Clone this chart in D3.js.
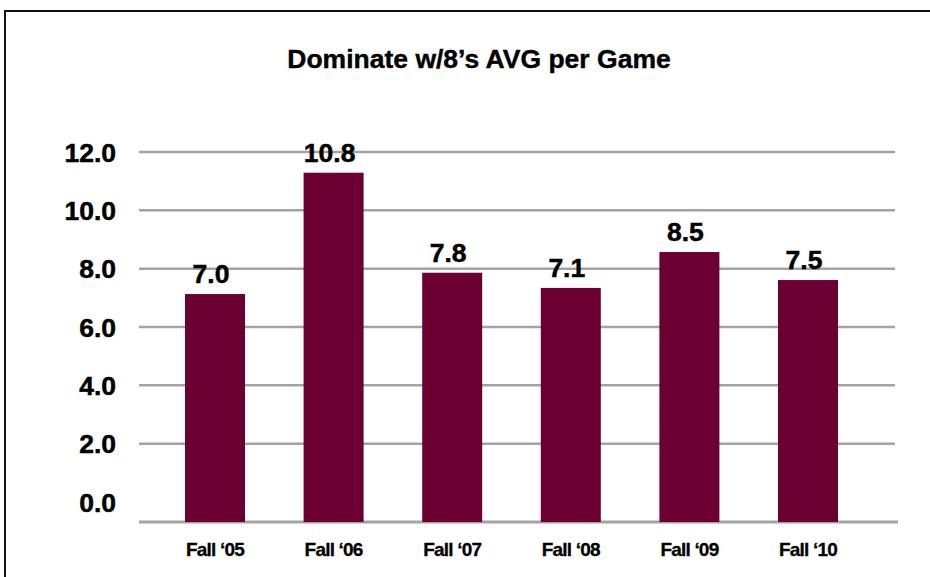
<!DOCTYPE html>
<html>
<head>
<meta charset="utf-8">
<script src="https://cdnjs.cloudflare.com/ajax/libs/d3/7.8.5/d3.min.js"></script>
<style>
  body { margin: 0; background: #fff; }
  text { font-family: "Liberation Sans", Arial, sans-serif; font-weight: bold; fill: #000; }
</style>
</head>
<body>
<div id="canvas"></div>
<script>
var seasons = ["Fall \u201805", "Fall \u201806", "Fall \u201807", "Fall \u201808", "Fall \u201809", "Fall \u201810"]
// printed values above the bars
var values = [7.0, 10.8, 7.8, 7.1, 8.5, 7.5]
// bar heights as drawn in the picture (they don't match the printed values exactly)
var barHeights = [7.13, 11.29, 7.86, 7.34, 8.57, 7.61]
var yTicks = [0, 2, 4, 6, 8, 10, 12]

var width = 930
var height = 577
var baseY = 522

var svg = d3.select("#canvas")
    .append("svg")
    .attr("width", width)
    .attr("height", height)

// frame
svg.append("rect")
    .attr("x", 5)
    .attr("y", 11)
    .attr("width", width)
    .attr("height", height)
    .attr("fill", "none")
    .attr("stroke", "#111")
    .attr("stroke-width", 2)

svg.append("text")
    .attr("x", 479)
    .attr("y", 68)
    .attr("text-anchor", "middle")
    .style("font-size", "26.5px")
    .style("stroke", "#000")
    .style("stroke-width", 0.4)
    .text("Dominate w/8\u2019s AVG per Game")

var xScale = d3.scalePoint().domain(seasons).range([215, 808])
var yScale = d3.scaleLinear().domain([0, 12]).range([502, 152])
var barWidth = 60

// gridlines (0 is replaced by the baseline below)
svg.selectAll(".grid")
    .data(yTicks.filter(function (d) { return d > 0 }))
    .enter()
    .append("line")
    .attr("class", "grid")
    .attr("x1", 139)
    .attr("x2", 895)
    .attr("y1", function (d) { return yScale(d) })
    .attr("y2", function (d) { return yScale(d) })
    .attr("stroke", "#a3a3a3")
    .attr("stroke-width", 2.5)

svg.append("line")
    .attr("x1", 139)
    .attr("x2", 898)
    .attr("y1", baseY)
    .attr("y2", baseY)
    .attr("stroke", "#a3a3a3")
    .attr("stroke-width", 3)

// y tick labels
svg.selectAll(".ytick")
    .data(yTicks)
    .enter()
    .append("text")
    .attr("class", "ytick")
    .attr("x", 116)
    .attr("y", function (d) { return yScale(d) })
    .attr("dy", "0.36em")
    .attr("text-anchor", "end")
    .style("font-size", "26.5px")
    .style("stroke", "#000")
    .style("stroke-width", 0.5)
    .text(function (d) { return d3.format(".1f")(d) })

var bars = svg.selectAll(".bar")
    .data(seasons)
    .enter()
    .append("rect")
    .attr("class", "bar")
    .attr("x", function (d) { return xScale(d) - barWidth / 2 })
    .attr("width", barWidth)
    .attr("y", function (d, i) { return yScale(barHeights[i]) })
    .attr("height", function (d, i) { return baseY - yScale(barHeights[i]) })
    .attr("fill", "#6c0032")

svg.selectAll(".vlabel")
    .data(seasons)
    .enter()
    .append("text")
    .attr("class", "vlabel")
    .attr("x", function (d) { return xScale(d) - 4 })
    .attr("y", function (d, i) { return yScale(barHeights[i]) - 11 })
    .attr("text-anchor", "middle")
    .style("font-size", "26.5px")
    .style("stroke", "#000")
    .style("stroke-width", 0.5)
    .text(function (d, i) { return d3.format(".1f")(values[i]) })

svg.selectAll(".xlabel")
    .data(seasons)
    .enter()
    .append("text")
    .attr("class", "xlabel")
    .attr("x", function (d) { return xScale(d) })
    .attr("y", 556)
    .attr("text-anchor", "middle")
    .style("font-size", "19px")
    .style("letter-spacing", "-0.8px")
    .style("stroke", "#000")
    .style("stroke-width", 0.3)
    .text(function (d) { return d })
</script>
</body>
</html>
